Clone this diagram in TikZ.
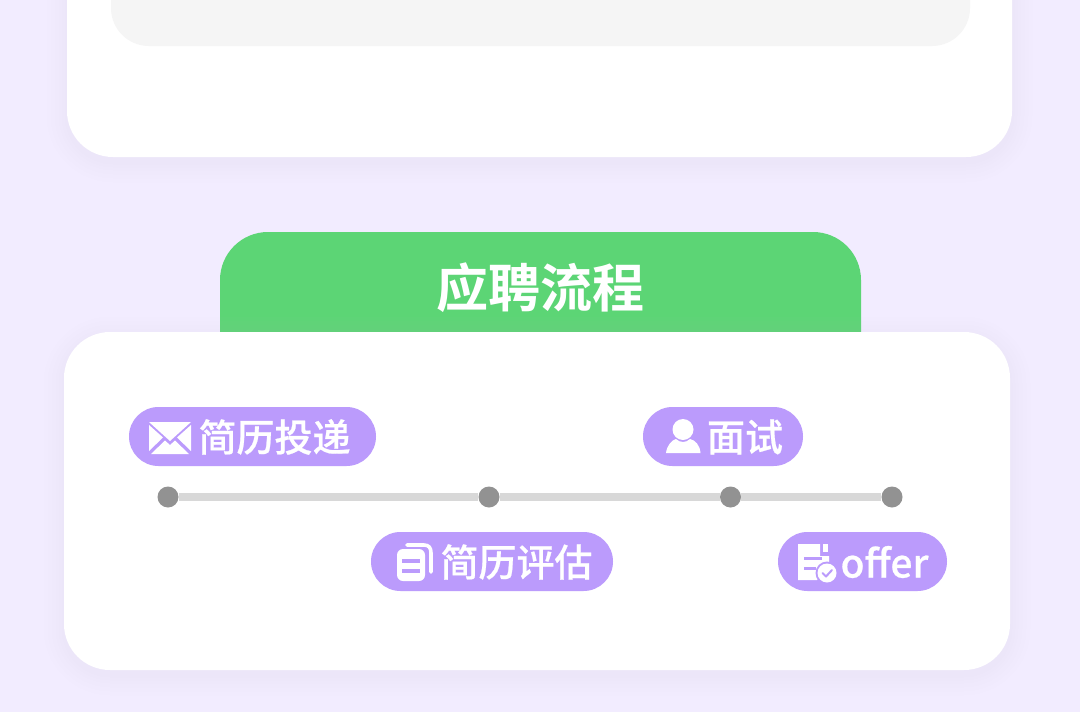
\documentclass[tikz,border=0pt]{standalone}
\usepackage{fontspec}
\newfontfamily\cjk[FakeBold=0.6]{Noto Sans CJK SC Medium}
\newfontfamily\cjkbold{Noto Sans CJK SC Bold}
\definecolor{bg}{HTML}{F2ECFF}
\definecolor{grn}{HTML}{5CD575}
\definecolor{pur}{HTML}{BB9BFC}
\definecolor{dotc}{HTML}{929292}
\definecolor{linec}{HTML}{D8D8D8}
\definecolor{inner}{HTML}{F5F5F5}
\definecolor{shad}{HTML}{C4BCDC}
\tikzset{
  x=1pt,y=-1pt,
  badge/.style={fill=pur,draw=none,rounded corners=29.5pt},
  tl/.style={text=white,font=\cjk\fontsize{38}{38}\selectfont,inner sep=0,anchor=center},
  stopdot/.style={circle,fill=dotc,minimum size=21pt,inner sep=0},
  track/.style={draw=linec,line width=8pt},
  ic/.style={fill=white,draw=none},
}
\newcommand{\softshadow}[5]{%
  \foreach \g in {20,16,12,8,5,2}{%
    \fill[shad,opacity=0.02,rounded corners=#5+\g*1pt] (#1-\g,#2-\g+5) rectangle (#3+\g,#4+\g+5);
  }%
}
\begin{document}
\begin{tikzpicture}
\useasboundingbox (0,0) rectangle (1080,712);
\fill[bg] (0,0) rectangle (1080,712);
% top panel
\softshadow{67}{-60}{1012}{157}{46}
\fill[white,rounded corners=46pt] (67,-60) rectangle (1012,157);
\fill[inner,rounded corners=38pt] (111,-60) rectangle (970,46);
% heading tab
\fill[grn,rounded corners=48pt] (220,232) rectangle (861,400);
\node[text=white,font=\cjkbold\fontsize{52}{52}\selectfont,inner sep=0] (title) at (540,288) {应聘流程};
% lower panel
\softshadow{64}{332}{1010}{670}{46}
\fill[white,rounded corners=46pt] (64,332) rectangle (1010,670);
% timeline
\node[stopdot] (s1) at (168,497) {};
\node[stopdot] (s2) at (489,497) {};
\node[stopdot] (s3) at (730.5,497) {};
\node[stopdot] (s4) at (892,497) {};
\draw[track] (s1) -- (s2);
\draw[track] (s2) -- (s3);
\draw[track] (s3) -- (s4);
% badges
\fill[badge] (129,407) rectangle (376,466);
\fill[badge] (643,407) rectangle (803,466);
\fill[badge] (371,532) rectangle (613,591);
\fill[badge] (778,532) rectangle (947,591);
\node[tl] (t1) at (274.5,437) {简历投递};
\node[tl] (t2) at (745,437) {面试};
\node[tl] (t3) at (516.5,562) {简历评估};
\node[tl,font=\cjk\fontsize{39}{39}\selectfont] (t4) at (884.5,562) {offer};
% envelope icon
\fill[ic] (149,422) -- (191,422) -- (170,441) -- cycle;
\fill[ic] (149,425) -- (163,437.5) -- (149,451) -- cycle;
\fill[ic] (191,425) -- (177,437.5) -- (191,451) -- cycle;
\fill[ic] (151,454) -- (165,440.5) -- (170,445) -- (175,440.5) -- (189,454) -- cycle;
% person icon
\fill[ic] (683,429.5) circle (10.5);
\fill[ic] (666,453) .. controls (667,445) and (672,440) .. (676,439) .. controls (680,443) and (686,443) .. (690,439) .. controls (695,440) and (700,445) .. (700.5,453) -- cycle;
% documents icon
\fill[ic,rounded corners=6pt] (397,549) rectangle (425,581);
\draw[white,line width=3.6pt,line cap=round] (407,545) -- (424,545) .. controls (429,545) and (431,548) .. (431,553) -- (431,572);
\fill[pur] (402,559) rectangle (420,563);
\fill[pur] (402,569) rectangle (420,573);
% offer document icon
\fill[ic] (798,544) -- (820,544) -- (820,556) -- (829,556) -- (829,564) -- (817,580) -- (798,580) -- cycle;
\fill[ic] (823,544) -- (828,544) -- (828,552) -- (823,552) -- cycle;
\fill[pur] (804,557) rectangle (822,560);
\fill[pur] (804,567) rectangle (816,570);
\fill[pur] (827,573) circle (11.5);
\fill[ic] (827,573) circle (9.5);
\draw[pur,line width=2pt,line cap=round,line join=round] (822.5,573) -- (826,576.5) -- (832,570);
\end{tikzpicture}
\end{document}
